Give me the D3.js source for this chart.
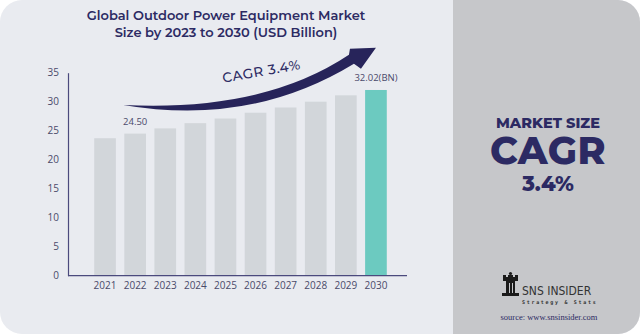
<!DOCTYPE html>
<html>
<head>
<meta charset="utf-8">
<script src="https://cdn.jsdelivr.net/npm/d3@7"></script>
<style>
  body { margin: 0; background: #fff; }
  svg { display: block; }
</style>
</head>
<body>
<svg id="chart"></svg>
<script>
var years = ["2021", "2022", "2023", "2024", "2025", "2026", "2027", "2028", "2029", "2030"];
var values = [23.7, 24.50, 25.4, 26.3, 27.1, 28.1, 29.0, 30.0, 31.1, 32.02];
var yTicks = [0, 5, 10, 15, 20, 25, 30, 35];
var valueLabels = { "2022": "24.50", "2030": "32.02(BN)" };

var W = 640, H = 334;
var navy = "#2c2a63";

var svg = d3.select("#chart").attr("width", W).attr("height", H);

// card background: light left area, grey right panel
svg.append("clipPath").attr("id", "card")
  .append("rect").attr("x", 0).attr("y", 0).attr("width", W).attr("height", H)
  .attr("rx", 22).attr("ry", 22);

var card = svg.append("g").attr("clip-path", "url(#card)");
card.append("rect").attr("width", W).attr("height", H).attr("fill", "#e9ebf0");
card.append("rect").attr("x", 453).attr("width", W - 453).attr("height", H).attr("fill", "#c6c7ca");

// title
svg.append("text")
  .attr("x", 226).attr("y", 20)
  .attr("text-anchor", "middle")
  .style("font-family", "Montserrat, 'Open Sans', sans-serif")
  .style("font-weight", 600).style("font-size", "13px")
  .attr("fill", navy)
  .selectAll("tspan")
  .data(["Global Outdoor Power Equipment Market", "Size by 2023 to 2030 (USD Billion)"])
  .enter().append("tspan")
  .attr("x", 226).attr("dy", function (d, i) { return i ? 17 : 0; })
  .text(function (d) { return d; });

var margin = { top: 72.7, left: 68, bottom: 334 - 275.7 },
  plotW = 407 - margin.left,
  plotH = H - margin.top - margin.bottom;

var g = svg.append("g")
  .attr("transform", "translate(" + margin.left + "," + margin.top + ")");

var xScale = d3.scaleBand()
  .domain(years)
  .range([22, 22 + 30.1 * 10])
  .paddingInner(0.28)
  .paddingOuter(0.14);

var yScale = d3.scaleLinear()
  .domain([0, 35])
  .range([plotH, 0]);

// bars
g.selectAll("rect.bar")
  .data(years)
  .enter().append("rect")
  .attr("class", "bar")
  .attr("x", function (d) { return xScale(d); })
  .attr("width", xScale.bandwidth())
  .attr("y", function (d, i) { return yScale(values[i]); })
  .attr("height", function (d, i) { return plotH - yScale(values[i]); })
  .attr("fill", function (d) { return d === "2030" ? "#6ccac0" : "#d2d6da"; });

// value labels
g.selectAll("text.val")
  .data(years.filter(function (d) { return valueLabels[d]; }))
  .enter().append("text")
  .attr("class", "val")
  .attr("x", function (d) { return xScale(d) + xScale.bandwidth() / 2; })
  .attr("y", function (d) { return yScale(values[years.indexOf(d)]) - 9; })
  .attr("text-anchor", "middle")
  .style("font-family", "'Open Sans', sans-serif")
  .style("font-size", "9.5px")
  .attr("fill", "#4a4a6a")
  .text(function (d) { return valueLabels[d]; });

// axes
var yAxis = g.append("g")
  .call(d3.axisLeft(yScale).tickValues(yTicks).tickSize(0).tickPadding(9));
yAxis.select(".domain").attr("stroke", "#4b4a7d").attr("stroke-width", 1.2);
yAxis.selectAll("text")
  .style("font-family", "'Open Sans', sans-serif")
  .style("font-size", "10px")
  .attr("fill", "#4a4a6a");

var xAxis = g.append("g")
  .attr("transform", "translate(0," + plotH + ")")
  .call(d3.axisBottom(xScale).tickSize(0).tickPadding(6));
xAxis.select(".domain")
  .attr("d", "M0,0H" + plotW)
  .attr("stroke", "#4b4a7d").attr("stroke-width", 1.2);
xAxis.selectAll("text")
  .style("font-family", "'Open Sans', sans-serif")
  .style("font-size", "10px")
  .attr("fill", "#4a4a6a");

// growth swoosh arrow, anchored to the scales
var sx = xScale("2022") - 1, sy = yScale(29.45);
var tx = xScale("2030") + xScale.bandwidth() / 2, ty = yScale(39.3);
var arrow = d3.path();
arrow.moveTo(sx, sy);
arrow.quadraticCurveTo(sx + 140, sy + 7, tx - 27, ty + 7);   // upper edge
arrow.lineTo(tx - 26, ty + 1);                                // upper barb
arrow.lineTo(tx, ty);                                         // tip
arrow.lineTo(tx - 15, ty + 21);                               // lower barb
arrow.lineTo(tx - 22, ty + 16);
arrow.quadraticCurveTo(sx + 127, sy + 22, sx, sy);            // lower edge
arrow.closePath();
g.append("path").attr("d", arrow.toString()).attr("fill", "#27245a");

g.append("text")
  .attr("transform", "translate(" + (sx + 139) + "," + (sy - 29) + ") rotate(-10)")
  .attr("text-anchor", "middle")
  .style("font-family", "Montserrat, 'Open Sans', sans-serif")
  .style("font-size", "13.5px").style("font-weight", 500)
  .style("letter-spacing", "0.6px")
  .attr("fill", navy)
  .text("CAGR  3.4%");

// right panel text
var side = svg.append("g").attr("text-anchor", "middle").attr("fill", navy)
  .style("font-family", "Montserrat, 'Open Sans', sans-serif").style("font-weight", 800);
side.append("text").attr("x", 548).attr("y", 127.5).style("font-size", "14.5px").text("MARKET SIZE");
side.append("text").attr("x", 548).attr("y", 163.5).style("font-size", "38px")
  .style("letter-spacing", "0.5px").text("CAGR");
side.append("text").attr("x", 548).attr("y", 191).style("font-size", "21px").text("3.4%");

// logo: rook mark and wordmark
var logo = svg.append("g").attr("fill", "#1a1a1a");
logo.append("circle").attr("cx", 510.5).attr("cy", 273.5).attr("r", 1.6);
logo.append("path").attr("d",
  "M503,275h3v2h2v-2h5v2h2v-2h3v6h-15z" +
  "M506,281h9v12h-9z" +
  "M502,293h17v3h-17z");
logo.append("rect").attr("x", 509).attr("y", 283).attr("width", 1).attr("height", 10).attr("fill", "#c6c7ca");
logo.append("rect").attr("x", 512).attr("y", 283).attr("width", 1).attr("height", 10).attr("fill", "#c6c7ca");
logo.append("text").attr("x", 522).attr("y", 295)
  .style("font-family", "'DejaVu Sans Condensed', 'Liberation Sans Narrow', sans-serif")
  .style("font-size", "12px").attr("fill", "#333")
  .text("SNS INSIDER");
logo.append("text").attr("x", 522).attr("y", 303.5)
  .style("font-family", "'DejaVu Sans Mono', monospace")
  .style("font-size", "5px").style("font-weight", "bold").style("letter-spacing", "1.7px")
  .attr("fill", "#333")
  .text("Strategy & Stats");

svg.append("text").attr("x", 549).attr("y", 320)
  .attr("text-anchor", "middle")
  .style("font-family", "'Liberation Serif', 'DejaVu Serif', serif")
  .style("font-size", "8.5px").attr("fill", navy)
  .text("source: www.snsinsider.com");
</script>
</body>
</html>
